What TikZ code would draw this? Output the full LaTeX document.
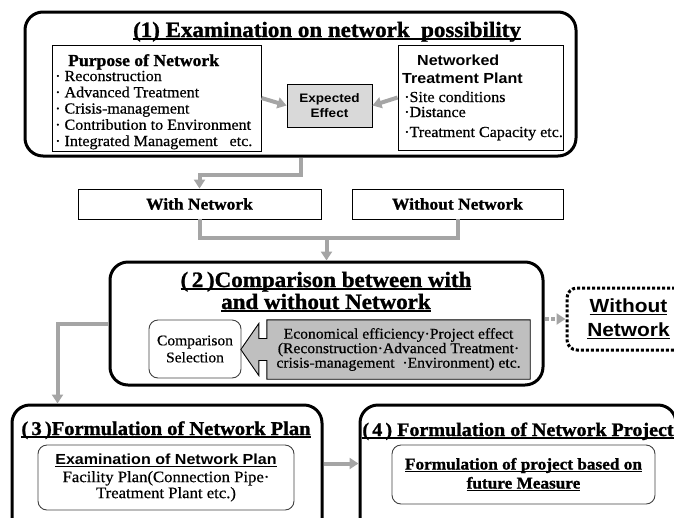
\documentclass[tikz,border=0pt]{standalone}
\usepackage{fontspec}
\setmainfont{Liberation Serif}[FakeStretch=1.05, UprightFeatures={FakeBold=0.6}, BoldFeatures={FakeBold=1.2}]
\setsansfont{Liberation Sans}[FakeStretch=1.1]
\usetikzlibrary{arrows.meta,positioning,calc,backgrounds}
\definecolor{arrowgray}{HTML}{A5A5A5}
\definecolor{effectgray}{HTML}{D9D9D9}
\definecolor{boxgray}{HTML}{BFBFBF}
\newcommand\undl[1]{\setbox0=\hbox{#1}\rlap{\rule[-2.5pt]{\wd0}{1.1pt}}\box0}
\tikzset{
  stage/.style={draw, line width=3pt, rounded corners=18pt, inner sep=0pt},
  plain_box/.style={draw, line width=0.9pt, inner sep=0pt, align=center},
  inner_box/.style={draw=black!75, line width=0.9pt, rounded corners=9pt, inner sep=0pt, align=center},
  stage_title/.style={anchor=base, inner sep=0pt, font=\bfseries\fontsize{21.9}{24}\selectfont},
  item/.style={anchor=base west, inner sep=0pt, font=\fontsize{15.3}{16}\selectfont},
  head_sans/.style={item, font=\sffamily\bfseries\fontsize{14.6}{18}\selectfont},
  flow/.style={draw=arrowgray, line width=4pt, -{Triangle[length=9pt,width=11pt]}},
  flow_line/.style={draw=arrowgray, line width=4pt}
}

\begin{document}
\begin{tikzpicture}[x=1pt,y=-1pt]
\path[use as bounding box] (0,0) rectangle (674,517);
\clip (0,0) rectangle (674,517);

\node[stage, minimum width=551pt, minimum height=144pt] (box1) at (300.5,84) {};
\node[stage_title] (t1) at (327,37) {\undl{(1) Examination on network\ \ possibility}};

\node[plain_box, minimum width=209pt, minimum height=106pt] (purpose) at (156.5,98) {};
\node[item, font=\bfseries\fontsize{16.8}{18}\selectfont] (purpose_head) at (68,66) {Purpose of Network};
\foreach \txt [count=\i] in {Reconstruction, Advanced Treatment, Crisis-management,
    Contribution to Environment, Integrated Management\hspace{12pt}etc.}
  \node[item] (purpose_\i) at (55,64.75+16.25*\i) {·\ \txt};

\node[plain_box, minimum width=165pt, minimum height=105pt] (plant) at (480.5,97.5) {};
\node[head_sans] (plant_head) at (417,65) {Networked};
\node[head_sans] (plant_head2) at (402,83) {Treatment Plant};
\node[item] (plant_1) at (404,102) {·Site conditions};
\node[item] (plant_2) at (404,117) {·Distance};
\node[item] (plant_3) at (404,137) {·Treatment Capacity etc.};

\node[plain_box, fill=effectgray, minimum width=85pt, minimum height=43pt,
  font=\sffamily\bfseries\fontsize{12.3}{15}\selectfont] (expect) at (329.5,105.5) {Expected\\Effect};
\draw[flow] (purpose.east) -- (expect.west);
\draw[flow] (plant.west) -- (expect.east);

\node[plain_box, minimum width=243pt, minimum height=30pt,
  font=\bfseries\fontsize{16.6}{18}\selectfont] (with_net) at (199.5,204) {With Network};
\node[plain_box, minimum width=211pt, minimum height=30pt,
  font=\bfseries\fontsize{16.6}{18}\selectfont] (without_net) at (457.5,204) {Without Network};
\draw[flow] (box1.south) -- ++(0,17) -| (with_net.north);

\node[stage, minimum width=433pt, minimum height=123pt] (box2) at (326.5,323.5) {};
\node[stage_title] (t2a) at (326,287) {\undl{(\,2\,)Comparison between with}};
\node[stage_title] (t2b) at (326,309) {\undl{and without Network}};
\coordinate (merge) at ($(box2.north)+(0,-23)$);
\draw[flow_line] (with_net.south) |- (merge);
\draw[flow_line] (without_net.south) |- (merge);
\draw[flow] (merge) -- (box2.north);

\node[inner_box, minimum width=92pt, minimum height=58pt,
  font=\fontsize{14.8}{17}\selectfont] (compare) at (195,349) {Comparison\\Selection};
\node[inner sep=0pt, minimum width=263pt, minimum height=59pt, align=center,
  font=\fontsize{14.9}{14.5}\selectfont] (effects) at (398.5,349.5)
  {Economical efficiency·Project effect\\(Reconstruction·Advanced Treatment·\\crisis-management\ \ ·Environment)\ etc.};
\begin{scope}[on background layer]
\draw[line width=0.9pt, fill=boxgray] (effects.north east) -- (effects.north west)
  -- ($(effects.west)+(0,-11)$) -- ++(-8,0) -- ++(0,-15) -- ($(effects.west)+(-26,0)$)
  -- ($(effects.west)+(-8,26)$) -- ++(0,-15) -- ++(8,0) -- (effects.south west)
  -- (effects.south east) -- cycle;
\end{scope}

\node[draw, line width=3pt, dash pattern=on 3pt off 2pt, rounded corners=10pt,
  minimum width=123pt, minimum height=62pt, align=center,
  font=\sffamily\bfseries\fontsize{19}{24}\selectfont] (no_net) at (628.5,319) {\undl{Without}\\\undl{Network}};
\draw[flow, dash pattern=on 4pt off 2.5pt] (box2.east |- no_net.west) -- (no_net.west);

\node[stage, minimum width=310pt, minimum height=135pt] (box3) at (167,472.5) {};
\node[stage_title, font=\bfseries\fontsize{19.5}{22}\selectfont] (t3) at (166,435) {\undl{(\,3\,)Formulation of Network Plan}};
\node[inner_box, minimum width=256pt, minimum height=65pt,
  font=\fontsize{15.9}{16}\selectfont] (plan) at (166,477.5)
  {{\sffamily\bfseries\fontsize{14.6}{18}\selectfont\undl{Examination of Network Plan}}\\[2pt]
   Facility Plan(Connection Pipe·\\Treatment Plant etc.)};
\draw[flow] (box2.west) -| ([xshift=47pt]box3.north west);

\node[stage, minimum width=316pt, minimum height=135pt] (box4) at (518,472.5) {};
\node[stage_title, font=\bfseries\fontsize{19.1}{22}\selectfont] (t4) at (518,436) {\undl{(\,4\,) Formulation of Network Project}};
\node[inner_box, minimum width=263pt, minimum height=59pt,
  font=\bfseries\fontsize{16.4}{19}\selectfont] (project) at (523.5,474.5)
  {\undl{Formulation of project based on}\\\undl{future Measure}};
\draw[flow] ($(box3.north east)+(0,60)$) -- ($(box4.north west)+(0,60)$);
\end{tikzpicture}
\end{document}
